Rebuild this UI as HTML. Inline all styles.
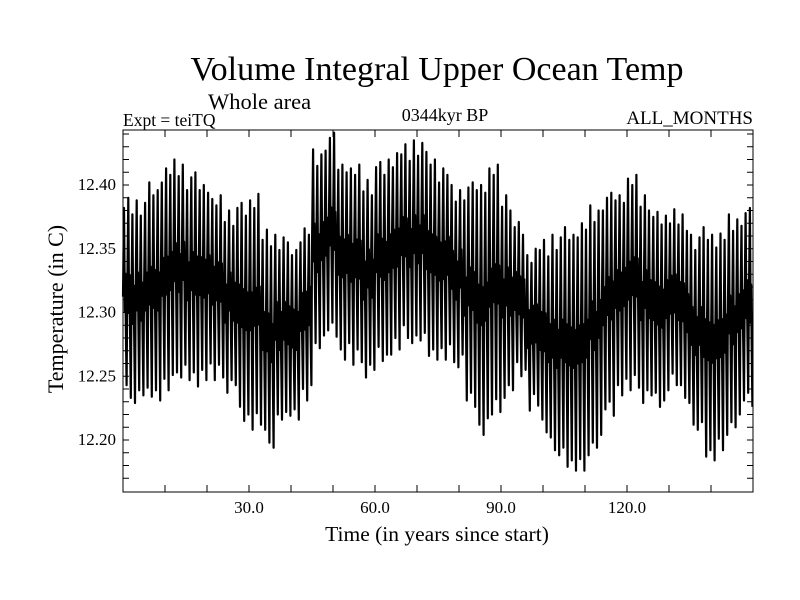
<!DOCTYPE html>
<html><head><meta charset="utf-8"><style>
body{margin:0;background:#fff}
svg{display:block;font-family:"Liberation Serif",serif}
</style></head><body>
<svg id="chart" width="800" height="600">
<text x="437" y="80" font-size="34" text-anchor="middle">Volume Integral Upper Ocean Temp</text>
<text x="208" y="109" font-size="22.5">Whole area</text>
<text x="123" y="126" font-size="17.5">Expt = teiTQ</text>
<text x="445" y="121" font-size="18" text-anchor="middle">0344kyr BP</text>
<text x="753" y="124" font-size="19" text-anchor="end">ALL_MONTHS</text>
<text transform="translate(63,309) rotate(-90)" font-size="22" text-anchor="middle">Temperature (in C)</text>
<text x="437" y="541" font-size="21.5" text-anchor="middle">Time (in years since start)</text>
<g id="series"></g>
<g id="axes"></g>
<rect x="123" y="130" width="630" height="362" fill="none" stroke="#000" stroke-width="1"/>
</svg>
<script>
const yTickValues=[12.20,12.25,12.30,12.35,12.40];
const yTickLabels=["12.20","12.25","12.30","12.35","12.40"];
const xTickValues=[30,60,90,120];
const xTickLabels=["30.0","60.0","90.0","120.0"];
// envelope of annual peaks/troughs, one value per 3-year block
const peakValues=[12.382,12.384,12.396,12.408,12.412,12.404,12.400,12.384,12.376,12.380,12.388,12.357,12.357,12.349,12.361,12.420,12.435,12.416,12.408,12.400,12.412,12.420,12.424,12.431,12.420,12.408,12.392,12.396,12.400,12.408,12.388,12.365,12.345,12.349,12.357,12.361,12.365,12.376,12.388,12.392,12.400,12.388,12.373,12.376,12.369,12.357,12.361,12.357,12.369,12.376];
const troughValues=[12.235,12.235,12.239,12.243,12.255,12.247,12.255,12.251,12.243,12.220,12.216,12.200,12.216,12.224,12.235,12.278,12.286,12.271,12.263,12.255,12.267,12.275,12.282,12.278,12.271,12.267,12.263,12.231,12.212,12.224,12.239,12.255,12.231,12.208,12.188,12.184,12.180,12.200,12.224,12.243,12.243,12.235,12.231,12.247,12.235,12.208,12.192,12.196,12.216,12.231];
const blockYears=3;
const X0=123,X1=753,Y0=130,Y1=492;
const xs=t=>X0+(t-0)/(150-0)*(X1-X0);
const ys=v=>185+(12.40-v)*1275;
const NS="http://www.w3.org/2000/svg";
const series=document.getElementById('series'),axes=document.getElementById('axes');
let d="";
const nYears=peakValues.length*blockYears;
const jit=[0,0.008,-0.005,0.004,-0.008,0.002,0.006,-0.004,0,-0.006,0.005];
for(let y=0;y<nYears;y++){
 const b=Math.floor(y/blockYears);
 const p=peakValues[b]+jit[y%11];
 const tr=troughValues[b]-jit[(y+4)%11];
 const mid=(p+tr)/2;
 d+=(y===0?"M":"L")+xs(y).toFixed(1)+","+ys(mid).toFixed(1);
 d+="L"+xs(y+0.25).toFixed(1)+","+ys(p).toFixed(1);
 d+="L"+xs(y+0.45).toFixed(1)+","+ys(mid-0.012).toFixed(1);
 d+="L"+xs(y+0.55).toFixed(1)+","+ys(mid+0.018).toFixed(1);
 d+="L"+xs(y+0.65).toFixed(1)+","+ys(mid-0.015).toFixed(1);
 d+="L"+xs(y+0.85).toFixed(1)+","+ys(tr).toFixed(1);
}
const path=document.createElementNS(NS,'path');
path.setAttribute('d',d);path.setAttribute('fill','none');path.setAttribute('stroke','#000');path.setAttribute('stroke-width','2.2');path.setAttribute('stroke-linejoin','round');


series.appendChild(path);
function line(x1,y1,x2,y2){const l=document.createElementNS(NS,'line');l.setAttribute('x1',x1);l.setAttribute('y1',y1);l.setAttribute('x2',x2);l.setAttribute('y2',y2);l.setAttribute('stroke','#000');axes.appendChild(l);return l;}
for(let v=12.17;v<=12.445;v+=0.01){const yy=ys(v);if(yy<Y0||yy>Y1)continue;
 const a=line(X0,yy,X0+6,yy);
 const b=line(X1-6,yy,X1,yy);}
for(let t=10;t<150;t+=10){const xx=xs(t);
 const a=line(xx,Y1,xx,Y1-7);
 const b=line(xx,Y0,xx,Y0+7);}
yTickValues.forEach((v,i)=>{const t=document.createElementNS(NS,'text');t.setAttribute('x',116);t.setAttribute('y',ys(v)+5);t.setAttribute('text-anchor','end');t.setAttribute('font-size','17');t.textContent=yTickLabels[i];
 
 
 axes.appendChild(t);});
xTickValues.forEach((v,i)=>{const t=document.createElementNS(NS,'text');t.setAttribute('x',xs(v));t.setAttribute('y',513);t.setAttribute('text-anchor','middle');t.setAttribute('font-size','17');t.textContent=xTickLabels[i];
 
 
 axes.appendChild(t);});
</script>
</body></html>
